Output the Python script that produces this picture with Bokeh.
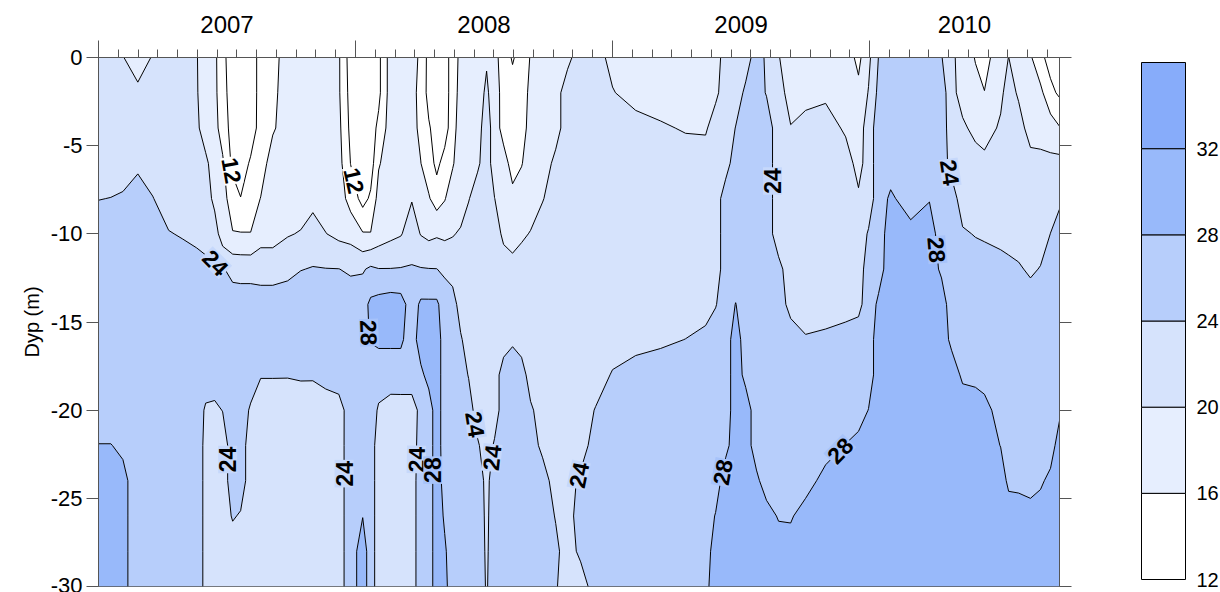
import math
import numpy as np
from bokeh.plotting import figure
from bokeh.models import FixedTicker, LinearAxis, Range1d
from bokeh.layouts import row
from bokeh.embed import file_html
from bokeh.resources import INLINE
from bokeh.core.properties import value
from bokeh.plotting.contour import contour_data

# ---------------- data ----------------
depths = [0, -2, -4, -6, -8, -10, -12, -14, -16, -18, -20, -22, -24, -26, -28, -30]

dates = [2007.000, 2007.048, 2007.095, 2007.153, 2007.211, 2007.273, 2007.328, 2007.382,
         2007.417, 2007.452, 2007.483, 2007.522, 2007.553, 2007.592, 2007.631, 2007.678,
         2007.736, 2007.787, 2007.834, 2007.884, 2007.935, 2007.981, 2008.028, 2008.059,
         2008.090, 2008.137, 2008.176, 2008.219, 2008.254, 2008.285, 2008.316, 2008.347,
         2008.378, 2008.409, 2008.440, 2008.475, 2008.510, 2008.541, 2008.576, 2008.611,
         2008.646, 2008.681, 2008.728, 2008.779, 2008.825, 2008.876, 2008.934, 2009.000,
         2009.090, 2009.187, 2009.284, 2009.362, 2009.401, 2009.440, 2009.479, 2009.518,
         2009.560, 2009.599, 2009.646, 2009.693, 2009.751, 2009.829, 2009.907, 2009.957,
         2009.996, 2010.035, 2010.082, 2010.160, 2010.233, 2010.280, 2010.319, 2010.362,
         2010.412, 2010.447, 2010.510, 2010.541, 2010.580, 2010.626, 2010.665, 2010.704,
         2010.739]

# salinity profile per sampling date, values at the depths above (0 m ... -30 m)
profiles = [
    [22, 22, 22, 22, 23.9, 26, 26, 26, 26, 26, 26, 28.1, 30, 30, 30, 30],
    [21.5, 22, 22, 22, 24.07, 26, 26, 26, 26, 26, 26, 28.1, 30, 30, 30, 30],
    [20.15, 22, 22, 22, 24.5, 26, 26, 26, 26, 26, 26, 27.33, 29, 29, 29, 29],
    [18, 20.86, 22, 23.14, 26, 26, 26, 26, 26, 26, 26, 26, 26, 26, 26, 26],
    [20.3, 22, 22, 22, 24.15, 26, 26, 26, 26, 26, 26, 26, 26, 26, 26, 26],
    [22, 22, 22, 22, 22, 24.22, 26, 26, 26, 26, 26, 26, 26, 26, 26, 26],
    [22, 22, 22, 22, 22, 23.65, 26, 26, 26, 26, 26, 26, 26, 26, 26, 26],
    [20.2, 20.3, 20.8, 21.5, 22, 22.67, 26, 26, 26, 26, 26, 25.5, 25.5, 25.5, 25.5, 25.5],
    [18, 18, 18, 20.86, 22, 22, 25.33, 26, 26, 26, 23.5, 23.3, 23.3, 23.3, 23.3, 23.3],
    [17, 17, 17.5, 18, 18.92, 22, 24.5, 26, 26, 26, 23.24, 22, 22, 22, 22, 22],
    [13, 13.5, 14, 16.67, 17.5, 17.67, 24.33, 26, 26, 26, 24.1, 22, 22, 22, 22, 22],
    [10, 10, 10.5, 10.92, 14, 16.2, 22.8, 26, 26, 26, 26, 26, 26, 24.35, 22, 22],
    [10, 10, 10, 10, 12.1, 16.2, 22.6, 26, 26, 26, 26, 26, 26, 23.65, 22, 22],
    [10.5, 10.5, 10, 12.5, 14, 16.1, 22.6, 26, 26, 26, 23.5, 22, 22, 22, 22, 22],
    [13, 13, 13.5, 14, 16.1, 18.5, 22.3, 26, 26, 24.22, 22, 22, 22, 22, 22, 22],
    [14.5, 15, 15.5, 18, 18, 18.5, 22.3, 26, 26, 24.22, 22, 22, 22, 22, 22, 22],
    [18, 18, 18, 18, 18, 19.7, 23, 26, 26, 24.2, 22, 22, 22, 22, 22, 22],
    [18, 18, 18, 18, 18, 20.26, 23.9, 26, 26, 24.42, 22, 22, 22, 22, 22, 22],
    [18, 18, 18, 18, 18.67, 22, 24.16, 26, 26, 24.4, 22, 22, 22, 22, 22, 22],
    [18, 18, 18, 18, 18, 20.1, 24.1, 26, 26, 25.33, 22, 22, 22, 22, 22, 22],
    [16.5, 16.5, 17, 17.5, 18, 19.0, 24.05, 26, 26, 26, 22.36, 22.4, 22.4, 22.4, 22.4, 22.4],
    [10, 10.5, 11, 11.9, 14.5, 18.5, 23.5, 26, 26, 26, 26, 26, 26, 26, 26, 26],
    [10, 10, 10, 10.5, 10.57, 16.29, 23.6, 26.5, 27, 26, 26, 26, 26.5, 27.9, 30, 30],
    [10, 10, 10, 10, 12.67, 16.17, 24.68, 28.83, 28.22, 26, 26, 26, 26, 26, 26, 26],
    [11, 11, 13, 15.65, 17.5, 17.8, 24.1, 29.5, 28.67, 26, 23.5, 22, 22, 22, 22, 22],
    [18, 18, 18, 18, 18, 19.0, 24.1, 30, 28.67, 26, 22.36, 22, 22, 22, 22, 22],
    [18, 18, 18, 18, 18, 19.7, 24.2, 29.7, 28.67, 26, 22.4, 22, 22, 22, 22, 22],
    [17, 17, 17, 17.5, 19.78, 22, 24.29, 26, 26, 26, 22.4, 22.3, 22.3, 22.3, 22.3, 22.3],
    [15.5, 15, 15.3, 16.05, 18, 19.8, 24.2, 28.67, 30, 27.14, 25, 25.5, 26, 26, 26, 26],
    [10.5, 10.5, 12.5, 14, 16.35, 19, 24.1, 28.67, 30, 29.33, 26, 26, 26, 26, 26, 26],
    [10, 10, 10, 10.92, 14.2, 19.5, 24.05, 28.67, 30, 30, 30, 30, 30, 30, 30, 30],
    [10, 10, 10, 13.64, 15.78, 19.2, 23.33, 26, 26, 26, 26, 26, 26.5, 27.5, 28.5, 29],
    [14, 14, 14.5, 15.65, 18, 19.8, 22, 26, 26, 26, 26, 26, 26, 26, 26, 26],
    [17, 17.5, 18, 18, 18.5, 20.35, 22, 22, 24.5, 26, 26, 26, 26, 26, 26, 26],
    [18, 18, 18, 18, 19.78, 22, 22, 22, 22, 23.78, 26, 26, 26, 26, 26, 26],
    [18, 18, 18.5, 19.33, 22, 22, 22, 22, 22, 22, 22, 24.5, 26, 26, 26, 26],
    [19.5, 20.8, 22, 22, 22, 22, 22, 22, 22, 22, 22, 22, 23, 23.3, 23.5, 23.7],
    [17, 17.5, 18, 18, 20.05, 22, 22, 22, 22, 22, 22, 24.5, 26, 26, 26, 26],
    [14.5, 14.8, 14.5, 17.64, 18, 19.14, 22, 22, 22, 26, 26, 26, 26, 26, 26, 26],
    [11.5, 14, 14, 14.5, 17.08, 18, 21.64, 22, 23.5, 26, 26, 26, 26, 26, 26, 26],
    [14, 14, 14.3, 15.78, 18, 19.33, 22, 22, 22, 26, 26, 26, 26, 26, 26, 26],
    [16.2, 17, 17.5, 18, 18, 20.22, 22, 22, 22, 22, 24.67, 26, 26, 26, 26, 26],
    [18, 18, 18, 18, 19.78, 22, 22, 22, 22, 22, 22, 22.92, 26, 26, 26, 26],
    [18.5, 18.5, 18.5, 21, 22, 22, 22, 22, 22, 22, 22, 22, 22, 23.78, 24.8, 24.3],
    [19.0, 22, 22, 22, 22, 22, 22, 22, 22, 22, 22, 22, 22.3, 22.3, 22.3, 22.3],
    [22, 22, 22, 22, 22, 22, 22, 22, 22, 22, 22, 22, 24.86, 26, 24.86, 22],
    [22, 22, 22, 22, 22, 22, 22, 22, 22, 22, 24.22, 26, 26, 26, 26, 26],
    [18.5, 20.29, 22, 22, 22, 22, 22, 22, 22, 24.35, 26, 26, 26, 26, 26, 26],
    [18, 18, 22, 22, 22, 22, 22, 22, 22.36, 26, 26, 26, 26, 26, 26, 26],
    [18, 18, 20.5, 22, 22, 22, 22, 22, 23.33, 26, 26, 26, 26, 26, 26, 26],
    [18, 18, 19.65, 22, 22, 22, 22, 22, 24.05, 26, 26, 26, 26, 26, 26, 26],
    [18, 18, 19.5, 22, 22, 22, 22, 22, 25.33, 26, 26, 26, 26, 26, 26.5, 27],
    [18.5, 19.14, 22, 22, 22, 22, 22, 23.78, 26, 26, 26, 26, 26, 28.22, 29.5, 30],
    [21.5, 22, 22, 22.36, 26, 26, 26, 26, 26, 26, 26, 26.92, 30, 30, 30, 30],
    [22, 22.3, 24.1, 26, 26, 26, 26, 28.1, 30, 30, 30, 30, 30, 30, 30, 30],
    [22.5, 24.67, 26, 26, 26, 26, 26, 26, 26, 26.92, 30, 30, 30, 30, 30, 30],
    [25.5, 25.5, 26, 26, 26, 26, 26, 26, 26, 26, 26, 26, 28.86, 30, 30, 30],
    [23.5, 23.78, 26, 26, 26, 26, 26, 26, 26, 26, 26, 26, 26, 29.6, 30, 30],
    [20.2, 21.5, 22, 22, 22, 22, 25.08, 26, 26, 26, 26, 26, 26, 27.65, 30, 30],
    [18, 18.5, 20.16, 22, 22, 22, 22, 22.67, 26, 26, 26, 26, 26, 27.5, 30, 30],
    [18, 18, 22, 22, 22, 22, 22, 22, 24.35, 26, 26, 26, 26, 30, 30, 30],
    [18, 19.14, 22, 22, 22, 22, 22, 22, 24.86, 26, 26, 26, 29.64, 30, 30, 30],
    [18, 18, 19.33, 22, 22, 22, 22, 22, 26, 26, 26, 28.1, 30, 30, 30, 30],
    [15, 17, 18, 18.5, 20.67, 22, 22, 22.92, 26, 26, 26, 29.33, 30, 30, 30, 30],
    [19, 20.22, 22, 22, 22, 24.35, 26, 26, 26, 26, 28.1, 30, 30, 30, 30, 30],
    [24.1, 25, 26, 26, 26, 26, 26.5, 28.67, 30, 30, 30, 30, 30, 30, 30, 30],
    [26, 26, 26, 26, 28.67, 30, 30, 30, 30, 30, 30, 30, 30, 30, 30, 30],
    [26, 26, 26, 26, 26, 29.33, 30, 30, 30, 30, 30, 30, 30, 30, 30, 30],
    [25.5, 26, 26, 26, 27.78, 30, 30, 30, 30, 30, 30, 30, 30, 30, 30, 30],
    [24.2, 26, 26, 26, 26, 26, 27.33, 30, 30, 30, 30, 30, 30, 30, 30, 30],
    [21, 21.5, 22, 22.67, 26, 26, 26, 26, 27.14, 30, 30, 30, 30, 30, 30, 30],
    [18, 18, 20.86, 22, 22, 24.5, 26, 26, 26, 27.33, 30, 30, 30, 30, 30, 30],
    [15.8, 17, 18.67, 22, 22, 23.78, 26, 26, 26, 26.92, 30, 30, 30, 30, 30, 30],
    [14.5, 16.1, 18, 21.2, 22, 23.42, 26, 26, 26, 26, 29.64, 30, 30, 30, 30, 30],
    [18.5, 19, 20.67, 22, 22, 22.36, 26, 26, 26, 26, 26, 27.9, 30, 30, 30, 30],
    [20.05, 22, 22, 22, 22, 22, 25.33, 26, 26, 26, 26, 26, 27.14, 30, 30, 30],
    [17.5, 19.33, 22, 22, 22, 22, 24.5, 26, 26, 26, 26, 26, 26.92, 30, 30, 30],
    [16.5, 17, 18, 21.64, 22, 22, 23.33, 26, 26, 26, 26, 26, 26, 30, 30, 30],
    [13, 17, 18, 21.33, 22, 22, 24.22, 26, 26, 26, 26, 26, 27.33, 30, 30, 30],
    [10.5, 13, 18, 20.86, 22, 24.05, 26, 26, 26, 26, 26, 26, 29.08, 30, 30, 30],
    [9.5, 11.33, 16.25, 21.25, 23.14, 26, 26, 26, 26, 26, 27.14, 30, 30, 30, 30, 30],
]

levels = [12, 16, 20, 24, 28, 32, 36]
band_colors = ["#FFFFFF", "#E6EEFE", "#D6E3FC", "#B7CEFB", "#98B9FA", "#87ACFA"]

years = [2007, 2008, 2009, 2010]
year_labels = ["2007", "2008", "2009", "2010"]
depth_ticks = [0, -5, -10, -15, -20, -25, -30]
cbar_ticks = [12, 16, 20, 24, 28, 32]

# contour labels: level, approximate date, approximate depth (snapped onto the line)
label_levels = [12, 12, 24, 28, 24, 24, 24, 28, 24, 24, 24, 28, 24, 24, 28, 28]
label_dates = [2007.522, 2007.989, 2007.453, 2008.055, 2007.488, 2007.969, 2008.250, 2008.316,
               2008.467, 2008.533, 2008.872, 2009.421, 2009.619, 2010.319, 2010.266, 2009.879]
label_depths = [-6.4, -7.0, -11.7, -15.6, -22.8, -23.6, -22.8, -23.4,
                -20.8, -22.7, -23.7, -23.5, -7.0, -6.5, -10.9, -22.2]

# ---------------- drawing ----------------
FONT = "Liberation Sans"
AX = "#555555"
FW, FH = 961, 529
TOP, LEFT, RIGHT, BOTTOM = 57, 98, 30, 6

x0, x1 = dates[0], dates[-1]
xg = np.array(dates, dtype=float)
yg = np.array(depths[::-1], dtype=float)
zg = np.array(profiles, dtype=float).T[::-1, :]

p = figure(frame_width=FW, frame_height=FH,
           x_range=Range1d(x0, x1), y_range=Range1d(-30, 0),
           x_axis_location=None, y_axis_location="left",
           output_backend="svg", toolbar_location=None,
           min_border_left=LEFT, min_border_right=RIGHT, min_border_top=TOP,
           min_border_bottom=BOTTOM)
p.grid.visible = False
p.outline_line_color = AX
p.background_fill_color = "white"
p.border_fill_color = "white"

p.contour(x=xg, y=yg, z=zg, levels=levels, fill_color=band_colors,
          line_color="black", line_width=1)

# contour labels placed on the computed contour lines
cd = contour_data(x=xg, y=yg, z=zg, levels=levels, want_fill=False, want_line=True)
ld = cd.line_data
SX = FW / (x1 - x0)
SY = FH / 30.0

def locate(level, tx, ty):
    qx, qy = (tx - x0) * SX, ty * SY
    best = None
    for xs, ys, lv in zip(ld.xs, ld.ys, ld.levels):
        if abs(float(lv) - level) > 1e-6:
            continue
        px = (np.asarray(xs, float) - x0) * SX
        py = np.asarray(ys, float) * SY
        for i in range(len(px) - 1):
            ax, ay, bx, by = px[i], py[i], px[i + 1], py[i + 1]
            if np.isnan(ax) or np.isnan(bx):
                continue
            dx, dy = bx - ax, by - ay
            L2 = dx * dx + dy * dy
            t = 0.0 if L2 == 0 else max(0.0, min(1.0, ((qx - ax) * dx + (qy - ay) * dy) / L2))
            cx, cy = ax + t * dx, ay + t * dy
            dist = math.hypot(cx - qx, cy - qy)
            if best is None or dist < best[0]:
                best = (dist, cx, cy, i, px, py)
    if best is None:
        return tx, ty, 0.0
    _, cx, cy, i, px, py = best
    j = i
    while j > 0 and not np.isnan(px[j - 1]) and math.hypot(px[j] - cx, py[j] - cy) < 12:
        j -= 1
    k = i + 1
    while k < len(px) - 1 and not np.isnan(px[k + 1]) and math.hypot(px[k] - cx, py[k] - cy) < 12:
        k += 1
    ang = math.atan2(py[k] - py[j], px[k] - px[j])
    if ang > math.pi / 2:
        ang -= math.pi
    elif ang <= -math.pi / 2:
        ang += math.pi
    return cx / SX + x0, cy / SY, ang

def blend(c1, c2):
    a = [int(c1[i:i + 2], 16) for i in (1, 3, 5)]
    b = [int(c2[i:i + 2], 16) for i in (1, 3, 5)]
    return "#%02X%02X%02X" % tuple((u + v) // 2 for u, v in zip(a, b))

lx, ly, la, lt, lbg = [], [], [], [], []
for lv, tx, ty in zip(label_levels, label_dates, label_depths):
    a, b, c = locate(lv, tx, ty)
    i = levels.index(lv)
    below = band_colors[i - 1] if i > 0 else "#FFFFFF"
    lx.append(a); ly.append(b); la.append(c); lt.append(str(lv))
    lbg.append(blend(below, band_colors[i]))

p.text(x=lx, y=ly, text=lt, angle=la, text_align="center", text_baseline="middle",
       text_font=value(FONT), text_font_size="23px", text_font_style="bold", text_color="black",
       background_fill_color=lbg, padding=1)

# left axis
ya = p.yaxis[0]
ya.ticker = FixedTicker(ticks=depth_ticks)
ya.major_label_overrides = {t: str(t) for t in depth_ticks}
ya.axis_label = "Dyp (m)"
ya.axis_label_text_font = FONT
ya.axis_label_text_font_size = "20px"
ya.axis_label_text_font_style = "normal"
ya.axis_label_text_color = "black"
ya.axis_label_standoff = 5
ya.major_label_text_font = FONT
ya.major_label_text_font_size = "22px"
ya.major_label_text_color = "black"
ya.major_label_standoff = 4
ya.major_tick_out = 12
ya.major_tick_in = 0
ya.minor_tick_out = 0
ya.minor_tick_in = 0
ya.axis_line_color = AX
ya.major_tick_line_color = AX

# right axis: tick marks only (drawn as minor ticks, no labels)
ra = LinearAxis(ticker=FixedTicker(ticks=[], minor_ticks=depth_ticks),
                major_tick_out=12, major_tick_in=0, minor_tick_out=12, minor_tick_in=0,
                major_label_standoff=0, axis_line_color=AX,
                major_tick_line_color=AX, minor_tick_line_color=AX)
p.add_layout(ra, "right")

# top axis (nearest the frame): 4-week tick marks
minor = [y + k / 13.0 for y in years for k in range(1, 13) if x0 < y + k / 13.0 < x1]
ta = LinearAxis(ticker=FixedTicker(ticks=[], minor_ticks=minor),
                major_tick_out=8, major_tick_in=0, minor_tick_out=8, minor_tick_in=0,
                major_label_standoff=0,
                axis_line_color=AX, major_tick_line_color=AX, minor_tick_line_color=AX)
p.add_layout(ta, "above")

# outer top axis: year boundary ticks reaching down to the frame + year labels
centers = [(max(y, x0) + min(y + 1, x1)) / 2.0 for y in years]
tl = LinearAxis(ticker=FixedTicker(ticks=centers, minor_ticks=years),
                major_label_overrides={c: s for c, s in zip(centers, year_labels)},
                major_label_text_font=FONT, major_label_text_font_size="24px",
                major_label_text_color="black", major_label_standoff=8,
                major_tick_out=0, major_tick_in=0, minor_tick_out=9, minor_tick_in=8,
                axis_line_color=None, major_tick_line_color=None, minor_tick_line_color=AX)
p.add_layout(tl, "above")

# colour bar: same frame height/top as the main plot (row aligns the frames);
# the bar itself sits at 62..579 px and 1141..1185 px on the page
BAR_TOP, BAR_BOT, BAR_L, BAR_W = 62, 579, 1141, 44
MAIN_W = LEFT + FW + RIGHT
upp = (levels[-1] - levels[0]) / float(BAR_BOT - BAR_TOP)
cb_y0 = levels[0] - (TOP + FH - BAR_BOT) * upp
cb_y1 = levels[-1] + (BAR_TOP - TOP) * upp
PADX = 5
CFW = BAR_W + 2 * PADX
cb = figure(frame_width=CFW, frame_height=FH,
            x_range=Range1d(-PADX / BAR_W, 1 + PADX / BAR_W), y_range=Range1d(cb_y0, cb_y1),
            x_axis_location=None, y_axis_location="right",
            output_backend="svg", toolbar_location=None,
            min_border_left=BAR_L - PADX - MAIN_W, min_border_right=8,
            min_border_top=TOP, min_border_bottom=BOTTOM)
cb.grid.visible = False
cb.outline_line_color = None
cb.background_fill_color = "white"
cb.border_fill_color = "white"
cb.quad(left=0, right=1, bottom=levels[:-1], top=levels[1:], fill_color=band_colors,
        line_color="black", line_width=1)
ca = cb.yaxis[0]
ca.ticker = FixedTicker(ticks=cbar_ticks)
ca.axis_line_color = None
ca.major_tick_line_color = None
ca.minor_tick_line_color = None
ca.major_label_text_font = FONT
ca.major_label_text_font_size = "20px"
ca.major_label_text_color = "black"
ca.major_label_standoff = 0

layout = row(p, cb)
open("out.html", "w").write(file_html(layout, INLINE))
